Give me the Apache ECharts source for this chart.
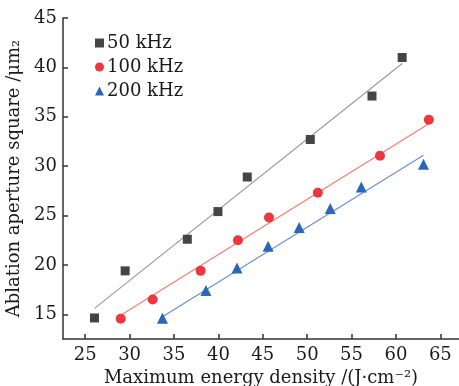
<!DOCTYPE html>
<html><head><meta charset="utf-8">
<script src="https://cdn.jsdelivr.net/npm/echarts@6/dist/echarts.min.js"></script>
<style>html,body{margin:0;padding:0;background:#fff}#c{width:459px;height:386px}</style>
</head><body><div id="c"></div>
<script>
var xTicks = [25, 30, 35, 40, 45, 50, 55, 60, 65];
var yTicks = [15, 20, 25, 30, 35, 40, 45];
var s50 = [[26.05,14.63],[29.5,19.4],[36.5,22.6],[39.95,25.4],[43.25,28.9],[50.35,32.7],[57.3,37.1],[60.7,41.0]];
var s100 = [[29.0,14.55],[32.6,16.5],[38.0,19.4],[42.2,22.5],[45.7,24.8],[51.2,27.3],[58.2,31.05],[63.7,34.7]];
var s200 = [[33.7,14.6],[38.6,17.4],[42.1,19.7],[45.6,21.9],[49.1,23.8],[52.6,25.7],[56.1,27.9],[63.1,30.2]];
var fit50 = [[26.05,15.6],[60.7,40.4]];
var fit100 = [[29.0,14.9],[63.7,34.3]];
var fit200 = [[33.7,14.75],[63.1,31.1]];
var names = ['50 kHz', '100 kHz', '200 kHz'];

var font = 'DejaVu Serif';
var chart = echarts.init(document.getElementById('c'), null, {renderer: 'canvas'});
function axisCommon() {
  return {
    axisLine: {show: true, onZero: false, lineStyle: {color: '#333', width: 1.5}},
    axisTick: {show: true, inside: true, length: 5, lineStyle: {color: '#333', width: 1.5}},
    splitLine: {show: false},
    nameTextStyle: {fontFamily: font, fontSize: 18, color: '#1a1a1a'}
  };
}
var xa = axisCommon();
Object.assign(xa, {
  type: 'value', min: 22.5, max: 67.1,
  name: 'Maximum energy density /(J\u00b7cm\u207b\u00b2)', nameLocation: 'middle', nameGap: 26,
  axisLabel: {customValues: xTicks, fontFamily: font, fontSize: 18, color: '#1a1a1a', margin: 7},
});
xa.axisTick.customValues = xTicks;
var ya = axisCommon();
Object.assign(ya, {
  type: 'value', min: 12.5, max: 45,
  name: 'Ablation aperture square /\u03bcm\u2082', nameLocation: 'middle', nameGap: 38,
  axisLabel: {customValues: yTicks, fontFamily: font, fontSize: 18, color: '#1a1a1a', margin: 6},
});
ya.axisTick.customValues = yTicks;

function lineS(d, c) {
  return {type: 'line', data: d, symbol: 'none', lineStyle: {color: c, width: 1.2}, silent: true, z: 1};
}
function scat(n, d, sym, sz, c) {
  return {type: 'scatter', name: n, data: d, symbol: sym, symbolSize: sz, itemStyle: {color: c, opacity: 1}, z: 3};
}
chart.setOption({
  animation: false,
  backgroundColor: '#fff',
  grid: {left: 63, right: 0, top: 18, bottom: 47, containLabel: false, outerBoundsMode: 'none'},
  xAxis: xa,
  yAxis: ya,
  legend: {
    data: names, orient: 'vertical', left: 90, top: 29, itemGap: 6,
    itemWidth: 9, itemHeight: 9,
    textStyle: {fontFamily: font, fontSize: 18, color: '#1a1a1a', padding: [0,0,0,-2]}
  },
  series: [
    lineS(fit50, '#9a9a9a'),
    lineS(fit100, '#f27f6f'),
    lineS(fit200, '#6c8fd6'),
    scat(names[0], s50, 'rect', 9, '#454545'),
    scat(names[1], s100, 'circle', 10, '#ec3640'),
    scat(names[2], s200, 'triangle', 11, '#2b67b8')
  ]
});
</script></body></html>
